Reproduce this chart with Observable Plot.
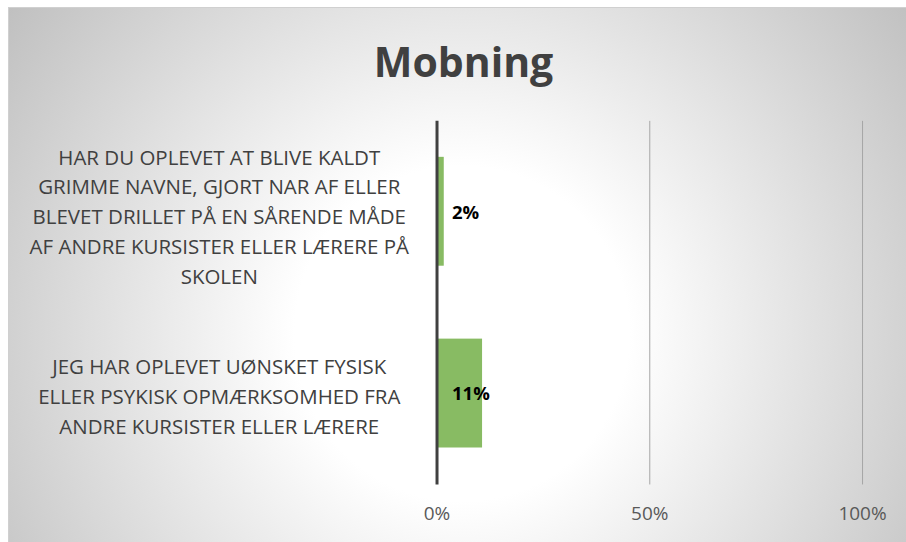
<!DOCTYPE html>
<html>
<head>
<meta charset="utf-8">
<script src="https://cdn.jsdelivr.net/npm/d3@7"></script>
<script src="https://cdn.jsdelivr.net/npm/@observablehq/plot@0.6"></script>
<style>
  html, body { margin: 0; padding: 0; background: #ffffff; }
  #frame {
    position: absolute; left: 8px; top: 7px; width: 898px; height: 535px;
    background: radial-gradient(circle farthest-corner at 50.5% 61%, #ffffff 0%, #ffffff 30%, #c0c0c0 100%);
    border-top: 1px solid #d0d0d0; border-left: 1px solid #d0d0d0;
    box-sizing: border-box; overflow: hidden;
  }
  #title {
    position: absolute; left: 0; width: 100%; top: 25px; text-align: center;
    font-family: "Open Sans", sans-serif; font-weight: 700; font-size: 41px; color: #404040;
    padding-left: 12px; box-sizing: border-box;
  }
  #chart { position: absolute; left: 0; top: 0; }
  #chart svg { background: transparent !important; }
</style>
</head>
<body>
<div id="frame">
  <div id="chart"></div>
  <div id="title">Mobning</div>
</div>
<script>
const categories = [
  "HAR DU OPLEVET AT BLIVE KALDT\nGRIMME NAVNE, GJORT NAR AF ELLER\nBLEVET DRILLET PÅ EN SÅRENDE MÅDE\nAF ANDRE KURSISTER ELLER LÆRERE PÅ\nSKOLEN",
  "JEG HAR OPLEVET UØNSKET FYSISK\nELLER PSYKISK OPMÆRKSOMHED FRA\nANDRE KURSISTER ELLER LÆRERE"
];
const values = [0.017, 0.107];
const valueLabels = ["2%", "11%"];
const xTicks = [0, 0.5, 1];

const data = categories.map((c, i) => ({category: c, value: values[i], label: valueLabels[i]}));

const catText = (rows, dy) => Plot.text(rows, {
  y: "category", text: "category", frameAnchor: "left", dx: -218, dy,
  textAnchor: "middle", lineAnchor: "middle", lineHeight: 1.46, fill: "#404040", fontSize: 20.5
});

const chart = Plot.plot({
  width: 898,
  height: 535,
  marginLeft: 428,
  marginRight: 44,
  marginTop: 113,
  marginBottom: 58,
  style: {background: "transparent", fontFamily: "Open Sans, sans-serif", overflow: "visible"},
  x: {domain: [0, 1], axis: null, label: null},
  y: {domain: categories, paddingInner: 0.4, paddingOuter: 0.2, axis: null, label: null},
  marks: [
    Plot.gridX(xTicks.filter(d => d > 0), {stroke: "#a6a6a6", strokeOpacity: 1, strokeWidth: 1}),
    Plot.barX(data, {y: "category", x: "value", fill: "#88bb63"}),
    Plot.ruleX([0], {stroke: "#404040", strokeWidth: 3}),
    Plot.text(data, {y: "category", x: 0, text: "label", textAnchor: "start", dx: 15, dy: 1, fill: "#000000", fontWeight: "bold", fontSize: 18.5}),
    catText(data.slice(0, 1), 3),
    catText(data.slice(1), 1),
    Plot.axisX(xTicks, {tickFormat: d3.format(".0%"), tickSize: 0, tickPadding: 22, fontSize: 19, fill: "#595959", color: "#595959", label: null})
  ]
});
document.getElementById("chart").appendChild(chart);
</script>
</body>
</html>
